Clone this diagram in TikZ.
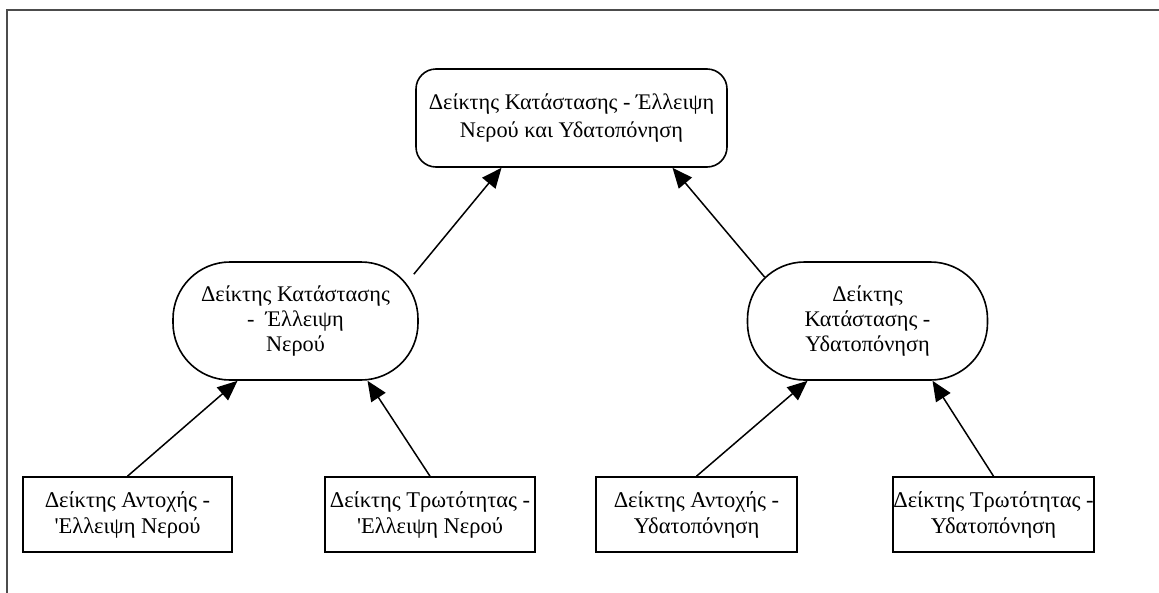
\documentclass[tikz,border=0pt]{standalone}
\usepackage{fontspec}
\setmainfont{Liberation Serif}[Ligatures=TeXOff]
\usetikzlibrary{arrows.meta,calc}
\begin{document}
\begin{tikzpicture}[x=1pt,y=-1pt,
  every node/.style={align=center, inner sep=0pt, line width=1.6pt},
  topbox/.style={draw, rounded corners=20pt, minimum width=311pt, minimum height=98pt,
    font=\fontsize{22.3}{28}\selectfont},
  midbox/.style={draw, rounded corners=57pt, minimum width=245pt, minimum height=118pt,
    font=\fontsize{22.3}{25}\selectfont},
  leafbox/.style={draw, minimum height=75pt, font=\fontsize{22.5}{26}\selectfont},
  link/.style={line width=1.5pt, -{Triangle[length=20pt,width=17pt]}}
]
\useasboundingbox (0,0) rectangle (1159,592);
% outer frame
\draw[line width=2pt, black!70] (7,600) -- (7,10) -- (1170,10);

% top level
\node[topbox] (top) at (571.5,118) {Δείκτης Κατάστασης - Έλλειψη\\Νερού και Υδατοπόνηση};

% middle level
\node[midbox] (ml) at (295.5,321) {Δείκτης Κατάστασης\\- \ Έλλειψη\\Νερού};
\node[midbox, minimum width=240pt] (mr) at (867.5,321) {Δείκτης\\Κατάστασης -\\Υδατοπόνηση};

% bottom level
\node[leafbox, minimum width=209pt] (b1) at (127.5,514.5) {Δείκτης Αντοχής -\\'Ελλειψη Νερού};
\node[leafbox, minimum width=210pt] (b2) at (430,514.5) {Δείκτης Τρωτότητας -\\'Ελλειψη Νερού};
\node[leafbox, minimum width=201pt] (b3) at (696.5,514.5) {Δείκτης Αντοχής -\\Υδατοπόνηση};
\node[leafbox, minimum width=201pt] (b4) at (993.5,514.5) {Δείκτης Τρωτότητας -\\Υδατοπόνηση};

% connector end points on the boundaries
\coordinate (ml-in1) at ($(ml.south)+(-58,0)$);
\coordinate (ml-in2) at ($(ml.south)+(72,0)$);
\coordinate (mr-in1) at ($(mr.south)+(-60,0)$);
\coordinate (mr-in2) at ($(mr.south)+(65,0)$);
\coordinate (top-in1) at ($(top.south)+(-70,0)$);
\coordinate (top-in2) at ($(top.south)+(101,0)$);
\coordinate (ml-out) at ($(ml.north east)+(-5,13)$);
\coordinate (mr-out) at ($(mr.north west)+(18,16)$);

\draw[link] (b1.north) -- (ml-in1);
\draw[link] (b2.north) -- (ml-in2);
\draw[link] (b3.north) -- (mr-in1);
\draw[link] (b4.north) -- (mr-in2);
\draw[link] (ml-out) -- (top-in1);
\draw[link] (mr-out) -- (top-in2);
\end{tikzpicture}
\end{document}
